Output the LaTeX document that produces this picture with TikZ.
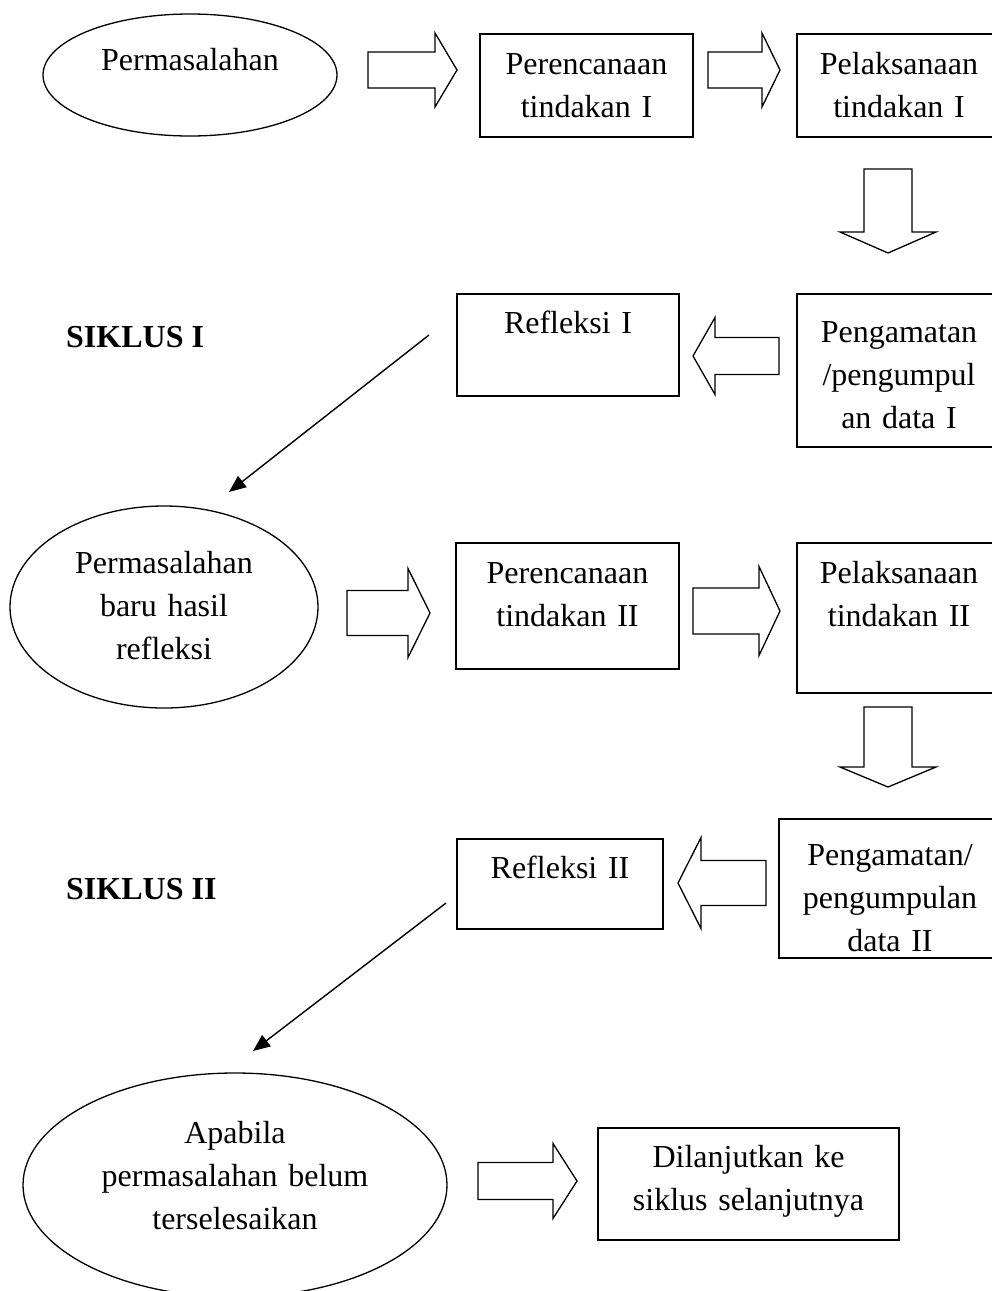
\documentclass[tikz,border=0pt]{standalone}
\usepackage{fontspec}
\setmainfont{Liberation Serif}
\usetikzlibrary{arrows.meta,shapes.geometric}

\tikzset{
	pics/blockarr/.style n args={4}{code={%
		\draw[fat] (0,-#2) -- (#1,-#2) -- (#1,-#4) -- (#1+#3,0) -- (#1,#4) -- (#1,#2) -- (0,#2) -- cycle;}}
}

\begin{document}
\begin{tikzpicture}[
		x=1pt, y=-1pt,
		font=\fontsize{32}{43}\selectfont,
		box/.style={draw, line width=1.6pt, inner sep=0pt, align=center, anchor=north},
		oval/.style={draw, ellipse, line width=1.3pt, inner sep=0pt, align=center},
		fat/.style={line width=1.3pt, line join=miter},
		arr/.style={-{Triangle[length=17pt, width=14pt]}, line width=1.4pt},
		cycletitle/.style={inner sep=0pt, anchor=base west, font=\fontsize{32}{43}\selectfont\bfseries}
	]
	\clip (0,0) rectangle (992,1291);

	% siklus I
	\node[oval, minimum width=294pt, minimum height=122pt, text width=190pt, text height=20pt, text depth=30pt] (masalah1) at (190,75) {Permasalahan};
	\node[box, text width=213pt, text height=41pt, text depth=62pt] (rencana1) at (586.5,33) {Perencanaan\\ tindakan I};
	\node[box, text width=204pt, text height=41pt, text depth=62pt] (laksana1) at (899,33) {Pelaksanaan\\ tindakan I};
	\node[box, text width=204pt, text height=49pt, text depth=104pt] (amat1) at (899,293) {Pengamatan\\ /pengumpul\\ an data I};
	\node[box, text width=222pt, text height=40pt, text depth=62pt] (refl1) at (568,293) {Refleksi I};
	\node[cycletitle] (siklus1) at (66,347) {SIKLUS I};

	\pic (ar1) at (368,70) {blockarr={67}{18}{22}{37}};
	\pic (ar2) at (708,70) {blockarr={54}{18}{18}{37}};
	\pic[rotate=-90] (ar3) at (888,169) {blockarr={63}{24}{21}{48}};
	\pic[rotate=180] (ar4) at (779,356) {blockarr={64}{18.5}{22}{38.5}};

	\coordinate (p1) at (429,335);
	\coordinate (q1) at (229,492);
	\draw[arr] (p1) -- (q1);

	% siklus II
	\node[oval, minimum width=308pt, minimum height=202pt, text width=200pt, text height=22pt, text depth=90pt] (masalah2) at (164,607) {Permasalahan\\ baru hasil\\ refleksi};
	\node[box, text width=223pt, text height=41pt, text depth=85pt] (rencana2) at (567.5,542) {Perencanaan\\ tindakan II};
	\node[box, text width=204pt, text height=41pt, text depth=109pt] (laksana2) at (899,542) {Pelaksanaan\\ tindakan II};
	\node[box, text width=222pt, text height=47pt, text depth=92pt] (amat2) at (890,818) {Pengamatan/\\ pengumpulan\\ data II};
	\node[box, text width=206pt, text height=40pt, text depth=50pt] (refl2) at (560,838) {Refleksi II};
	\node[cycletitle] (siklus2) at (66,899) {SIKLUS II};

	\pic (ar5) at (347,613) {blockarr={61}{22.5}{22}{44.5}};
	\pic (ar6) at (693,611) {blockarr={66}{23}{21}{44.5}};
	\pic[rotate=-90] (ar7) at (888,707) {blockarr={60}{24}{20}{48}};
	\pic[rotate=180] (ar8) at (766,883) {blockarr={65}{22.5}{23}{45.5}};

	\coordinate (p2) at (446,903);
	\coordinate (q2) at (253,1051);
	\draw[arr] (p2) -- (q2);

	% lanjut
	\node[oval, minimum width=424pt, minimum height=224pt, text width=280pt, text height=22pt, text depth=106pt] (masalah3) at (235,1185) {Apabila\\ permasalahan belum\\ terselesaikan};
	\node[box, text width=301pt, text height=40pt, text depth=72pt] (lanjut) at (748.5,1127) {Dilanjutkan ke\\ siklus selanjutnya};

	\pic (ar9) at (478,1181) {blockarr={75}{18.5}{24}{37.5}};
\end{tikzpicture}
\end{document}
